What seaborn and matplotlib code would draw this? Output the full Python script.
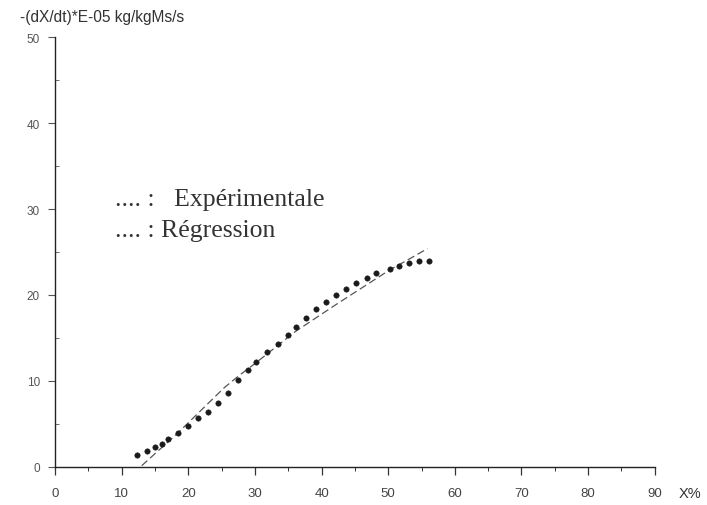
import matplotlib
matplotlib.use("Agg")
import matplotlib.pyplot as plt
from matplotlib.ticker import MultipleLocator
import numpy as np
import pandas as pd
import seaborn as sns

# Drying rate versus moisture content
x_exp = [12.3, 13.8, 15.0, 16.0, 17.0, 18.4, 19.95, 21.5, 23.0, 24.5, 26.0,
         27.5, 29.0, 30.1, 31.8, 33.4, 35.0, 36.1, 37.6, 39.1, 40.6, 42.1,
         43.6, 45.1, 46.8, 48.2, 50.2, 51.6, 53.1, 54.6, 56.1]
y_exp = [1.4, 1.8, 2.3, 2.65, 3.2, 3.9, 4.7, 5.6, 6.3, 7.4, 8.6,
         10.1, 11.3, 12.2, 13.3, 14.3, 15.3, 16.3, 17.3, 18.4, 19.2, 20.0,
         20.7, 21.4, 22.0, 22.6, 23.0, 23.4, 23.7, 23.9, 23.9]

x_reg = [13.0, 18.4, 25.4, 27.6, 30.0, 36.0, 42.6, 50.2, 53.2, 55.9]
y_reg = [0.1, 3.9, 9.2, 10.6, 12.0, 15.7, 19.1, 22.9, 24.2, 25.4]

x_ticks = [0, 10, 20, 30, 40, 50, 60, 70, 80, 90]
y_ticks = [0, 10, 20, 30, 40, 50]

legend_lines = [".... :   Expérimentale", ".... : Régression"]
y_title = "-(dX/dt)*E-05 kg/kgMs/s"
x_title = "X%"

exp_df = pd.DataFrame({"X": x_exp, "rate": y_exp})
reg_df = pd.DataFrame({"X": x_reg, "rate": y_reg})

sns.set_style("ticks")
plt.rcParams["font.family"] = ["Liberation Sans", "DejaVu Sans"]

fig = plt.figure(figsize=(7.07, 5.06), dpi=100)
ax = fig.add_axes([0.078, 0.076, 0.848, 0.848])

sns.lineplot(data=reg_df, x="X", y="rate", ax=ax, color="#555555",
             linewidth=0.9, dashes=False, sort=True)
ax.lines[-1].set_dashes((6, 3))
sns.scatterplot(data=exp_df, x="X", y="rate", ax=ax, color="#1a1a1a",
                s=15, edgecolor="#1a1a1a", linewidth=0.4, zorder=3)

ax.set_xlim(0, 90)
ax.set_ylim(0, 50)
ax.set_xticks(x_ticks)
ax.set_yticks(y_ticks)
ax.set_xticklabels([str(v) for v in x_ticks])
ax.set_yticklabels([str(v) for v in y_ticks])
ax.xaxis.set_minor_locator(MultipleLocator(5))
ax.yaxis.set_minor_locator(MultipleLocator(5))
ax.set_xlabel("")
ax.set_ylabel("")

for side in ("top", "right"):
    ax.spines[side].set_visible(False)
for side in ("left", "bottom"):
    ax.spines[side].set_color("#222222")
    ax.spines[side].set_linewidth(1.0)

ax.tick_params(axis="x", which="major", direction="out", length=6, width=0.9,
               color="#333333", labelsize=9.5, labelcolor="#444444", pad=9)
ax.tick_params(axis="x", which="minor", direction="out", length=3, width=0.7,
               color="#333333")
ax.tick_params(axis="y", which="major", direction="out", length=5, width=0.8,
               color="#555555", labelsize=8.5, labelcolor="#555555", pad=6)
ax.tick_params(axis="y", which="minor", direction="in", length=3, width=0.6,
               color="#555555")

fig.text(0.028, 0.966, y_title, ha="left", va="center", fontsize=11.2,
         color="#333333")
fig.text(0.976, 0.024, x_title, ha="center", va="center", fontsize=10.5,
         color="#333333")

for label, ypos in zip(legend_lines, [0.6105, 0.538]):
    ax.text(0.10, ypos, label, transform=ax.transAxes, ha="left",
            va="baseline", fontsize=18.5, color="#333333",
            family=["Liberation Serif", "DejaVu Serif"])

fig.savefig("out.png", dpi=100)
